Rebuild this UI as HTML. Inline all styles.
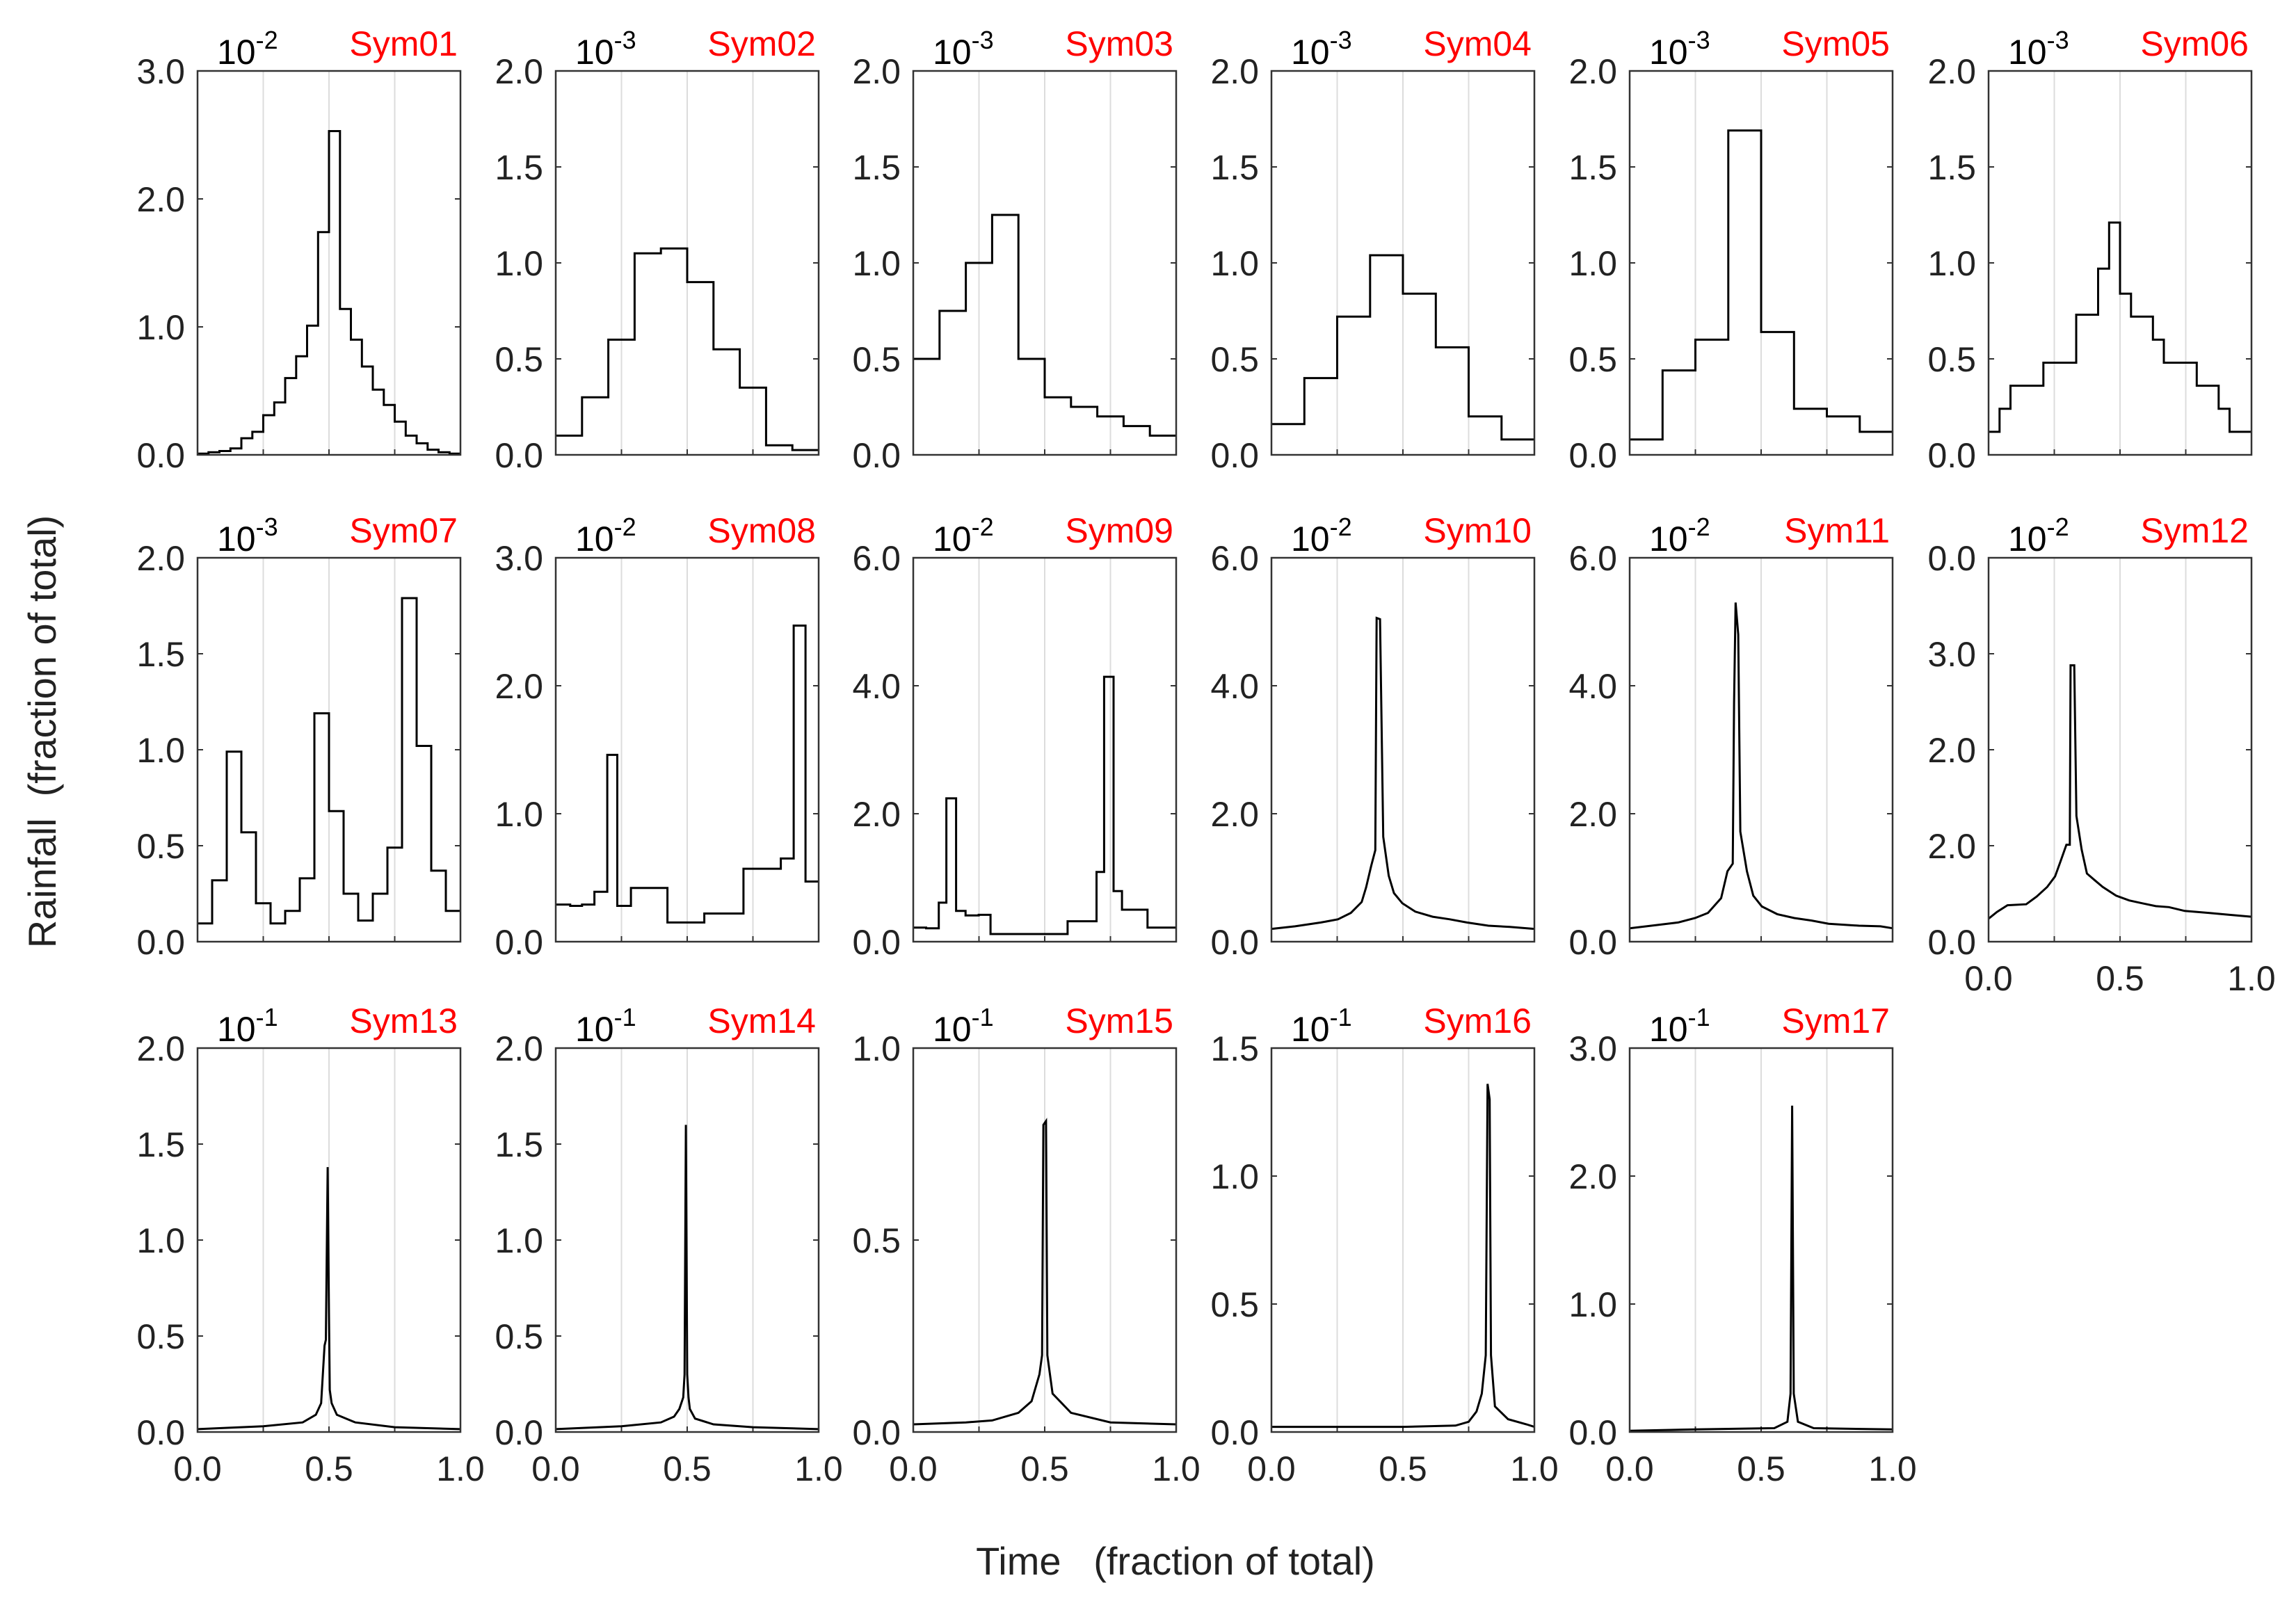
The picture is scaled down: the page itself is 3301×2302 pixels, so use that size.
<!DOCTYPE html>
<html><head><meta charset="utf-8">
<style>
html,body{margin:0;padding:0;background:#fff;}
svg{display:block;font-family:"Liberation Sans",Arial,sans-serif;}
</style></head>
<body>
<svg id="fig" width="3301" height="2302" viewBox="0 0 3301 2302" xmlns="http://www.w3.org/2000/svg">
<text x="0" y="0" transform="translate(80,1052) rotate(-90)" text-anchor="middle" font-size="56" fill="#222" xml:space="preserve">Rainfall  (fraction of total)</text>
<text x="1690" y="2264" text-anchor="middle" font-size="56" fill="#222" xml:space="preserve">Time   (fraction of total)</text>
</svg>
<script>
// ---- data ----
const names = ["Sym01","Sym02","Sym03","Sym04","Sym05","Sym06","Sym07","Sym08","Sym09","Sym10","Sym11","Sym12","Sym13","Sym14","Sym15","Sym16","Sym17"];
const exponents = ["-2","-3","-3","-3","-3","-3","-3","-2","-2","-2","-2","-2","-1","-1","-1","-1","-1"];
const yMaxes = [3,2,2,2,2,2,2,3,6,6,6,4,2,2,1,1.5,3];
const yTickStep = [1,0.5,0.5,0.5,0.5,0.5,0.5,1,2,2,2,1,0.5,0.5,0.5,0.5,1];
const sym12TickLabels = ["0.0","2.0","2.0","3.0","0.0"];
const xTickLabels = ["0.0","0.5","1.0"];
const xTickValues = [0,0.5,1];
const gridValues = [0.25,0.5,0.75];

// stepped series: uniform bins
const sym01 = [0.01,0.02,0.03,0.05,0.13,0.18,0.31,0.41,0.6,0.77,1.01,1.74,2.53,1.14,0.9,0.69,0.51,0.39,0.26,0.15,0.09,0.04,0.02,0.01];
const sym02 = [0.1,0.3,0.6,1.05,1.075,0.9,0.55,0.35,0.05,0.025];
const sym03 = [0.5,0.75,1.0,1.25,0.5,0.3,0.25,0.2,0.15,0.1];
const sym04 = [0.16,0.4,0.72,1.04,0.84,0.56,0.2,0.08];
const sym05 = [0.08,0.44,0.6,1.69,0.64,0.24,0.2,0.12];
const sym06 = [0.12,0.24,0.36,0.36,0.36,0.48,0.48,0.48,0.73,0.73,0.97,1.21,0.84,0.72,0.72,0.6,0.48,0.48,0.48,0.36,0.36,0.24,0.12,0.12];
const sym07 = [0.095,0.32,0.99,0.57,0.2,0.095,0.16,0.33,1.19,0.68,0.25,0.11,0.25,0.49,1.79,1.02,0.37,0.16];
// stepped series: explicit bin edges (time fraction)
const sym08Edges = [0,0.055,0.10,0.147,0.196,0.234,0.286,0.425,0.565,0.714,0.856,0.905,0.95,1];
const sym08 = [0.29,0.28,0.29,0.39,1.46,0.28,0.42,0.15,0.22,0.57,0.65,2.47,0.47];
const sym09Edges = [0,0.049,0.097,0.126,0.163,0.199,0.249,0.294,0.587,0.697,0.726,0.762,0.794,0.891,1];
const sym09 = [0.22,0.21,0.61,2.24,0.48,0.41,0.42,0.12,0.32,1.09,4.14,0.79,0.5,0.22];
// continuous series: time / value pairs
const sym10T = [0,0.09,0.188,0.253,0.302,0.343,0.36,0.379,0.395,0.4,0.413,0.425,0.446,0.466,0.498,0.547,0.613,0.678,0.743,0.825,0.907,1];
const sym10V = [0.2,0.24,0.3,0.35,0.45,0.62,0.85,1.18,1.43,5.06,5.04,1.64,1.03,0.76,0.6,0.47,0.39,0.35,0.3,0.25,0.23,0.2];
const sym11T = [0,0.102,0.184,0.249,0.298,0.348,0.372,0.392,0.397,0.403,0.413,0.421,0.446,0.47,0.503,0.561,0.626,0.692,0.757,0.872,0.954,1];
const sym11V = [0.21,0.26,0.3,0.37,0.45,0.68,1.1,1.22,3.73,5.3,4.8,1.72,1.1,0.72,0.55,0.43,0.37,0.33,0.28,0.25,0.24,0.21];
const sym12T = [0,0.032,0.072,0.143,0.183,0.223,0.253,0.274,0.296,0.309,0.312,0.326,0.334,0.354,0.374,0.404,0.434,0.485,0.535,0.585,0.636,0.686,0.746,0.837,0.917,1];
const sym12V = [0.24,0.31,0.38,0.39,0.47,0.57,0.68,0.84,1.01,1.01,2.88,2.88,1.31,0.96,0.71,0.64,0.57,0.48,0.43,0.4,0.37,0.36,0.32,0.3,0.28,0.26];
const sym13T = [0,0.25,0.4,0.45,0.47,0.483,0.488,0.495,0.5,0.503,0.51,0.53,0.6,0.75,1];
const sym13V = [0.015,0.03,0.05,0.09,0.15,0.45,0.48,1.38,0.6,0.22,0.15,0.09,0.05,0.025,0.015];
const sym14T = [0,0.25,0.4,0.45,0.47,0.485,0.49,0.495,0.5,0.505,0.51,0.53,0.6,0.75,1];
const sym14V = [0.015,0.03,0.05,0.08,0.12,0.18,0.3,1.6,0.3,0.18,0.12,0.07,0.04,0.025,0.015];
const sym15T = [0,0.2,0.3,0.4,0.45,0.48,0.49,0.495,0.505,0.51,0.53,0.6,0.75,1];
const sym15V = [0.02,0.025,0.03,0.05,0.08,0.15,0.2,0.8,0.81,0.2,0.1,0.05,0.025,0.02];
const sym16T = [0,0.5,0.7,0.75,0.78,0.8,0.815,0.822,0.83,0.835,0.85,0.9,0.97,1];
const sym16V = [0.02,0.02,0.025,0.04,0.08,0.15,0.3,1.36,1.3,0.3,0.1,0.05,0.03,0.02];
const sym17T = [0,0.25,0.55,0.6,0.612,0.618,0.624,0.64,0.7,1];
const sym17V = [0.01,0.02,0.03,0.08,0.3,2.55,0.3,0.08,0.03,0.02];

const seriesList = [
 {bins:sym01},{bins:sym02},{bins:sym03},{bins:sym04},{bins:sym05},{bins:sym06},{bins:sym07},
 {bins:sym08,edges:sym08Edges},{bins:sym09,edges:sym09Edges},
 {t:sym10T,v:sym10V},{t:sym11T,v:sym11V},{t:sym12T,v:sym12V},
 {t:sym13T,v:sym13V},{t:sym14T,v:sym14V},{t:sym15T,v:sym15V},{t:sym16T,v:sym16V},{t:sym17T,v:sym17V}
];

// ---- layout ----
const NS="http://www.w3.org/2000/svg";
const svg=document.getElementById('fig');
const colX=[284,799,1313,1828,2343,2859];
const rowY=[102,802,1507];
const PW=378, PH=552;
function mk(tag,attrs,parent){const e=document.createElementNS(NS,tag);for(const k in attrs)e.setAttribute(k,attrs[k]);(parent||svg).appendChild(e);return e;}

names.forEach((nm,i)=>{
  const r=Math.floor(i/6), c=i%6;
  const x0=colX[c], y0=rowY[r];
  const g=mk('g',{});
  
  
  const ymax=yMaxes[i];
  const sx=t=>x0+t*PW;
  const sy=v=>y0+PH-v/ymax*PH;
  gridValues.forEach(gv=>{
    const l=mk('line',{x1:sx(gv),x2:sx(gv),y1:y0,y2:y0+PH,stroke:'#dcdcdc','stroke-width':2},g);
    
    
    const tk=mk('line',{x1:sx(gv),x2:sx(gv),y1:y0+PH,y2:y0+PH-8,stroke:'#333','stroke-width':2},g);
    
    
  });
  const step=yTickStep[i];
  const n=Math.round(ymax/step);
  for(let k=0;k<=n;k++){
    const v=k*step, yy=sy(v);
    [[x0,x0+8],[x0+PW,x0+PW-8]].forEach(p=>{
      const tk=mk('line',{x1:p[0],x2:p[1],y1:yy,y2:yy,stroke:'#333','stroke-width':2},g);
      
      
    });
    const lab = (i===11)? sym12TickLabels[k] : v.toFixed(1);
    const tx=mk('text',{x:x0-18,y:yy+18,'text-anchor':'end','font-size':50,fill:'#222'},g);
    tx.textContent=lab;
    
    
  }
  if(r===2||i===11){
    xTickValues.forEach((xv,k)=>{
      const tx=mk('text',{x:sx(xv),y:y0+PH+70,'text-anchor':'middle','font-size':50,fill:'#222'},g);
      tx.textContent=xTickLabels[k];
      
      
    });
  }
  const s=seriesList[i];
  let d='';
  if(s.bins){
    const nb=s.bins.length;
    const edges=s.edges||s.bins.map((_,j)=>j/nb).concat([1]);
    s.bins.forEach((v,j)=>{
      d+=(j===0?'M':'L')+sx(edges[j]).toFixed(1)+','+sy(v).toFixed(1)+' L'+sx(edges[j+1]).toFixed(1)+','+sy(v).toFixed(1)+' ';
    });
  } else {
    s.t.forEach((t,j)=>{d+=(j===0?'M':'L')+sx(t).toFixed(1)+','+sy(s.v[j]).toFixed(1)+' ';});
  }
  const p=mk('path',{d:d,fill:'none',stroke:'#000','stroke-width':3,'stroke-linejoin':'miter'},g);
  
  
  const fr=mk('rect',{x:x0,y:y0,width:PW,height:PH,fill:'none',stroke:'#333','stroke-width':2.5},g);
  
  
  const ex=mk('text',{x:x0+28,y:y0-10,'font-size':50,fill:'#000'},g);
  
  
  const t1=mk('tspan',{},ex); t1.textContent='10';
  const t2=mk('tspan',{dy:-22,'font-size':36},ex); t2.textContent=exponents[i];
  const nmT=mk('text',{x:x0+PW-4,y:y0-22,'text-anchor':'end','font-size':50,fill:'#ff0000'},g);
  nmT.textContent=nm;
  
  
});
</script>
</body></html>
